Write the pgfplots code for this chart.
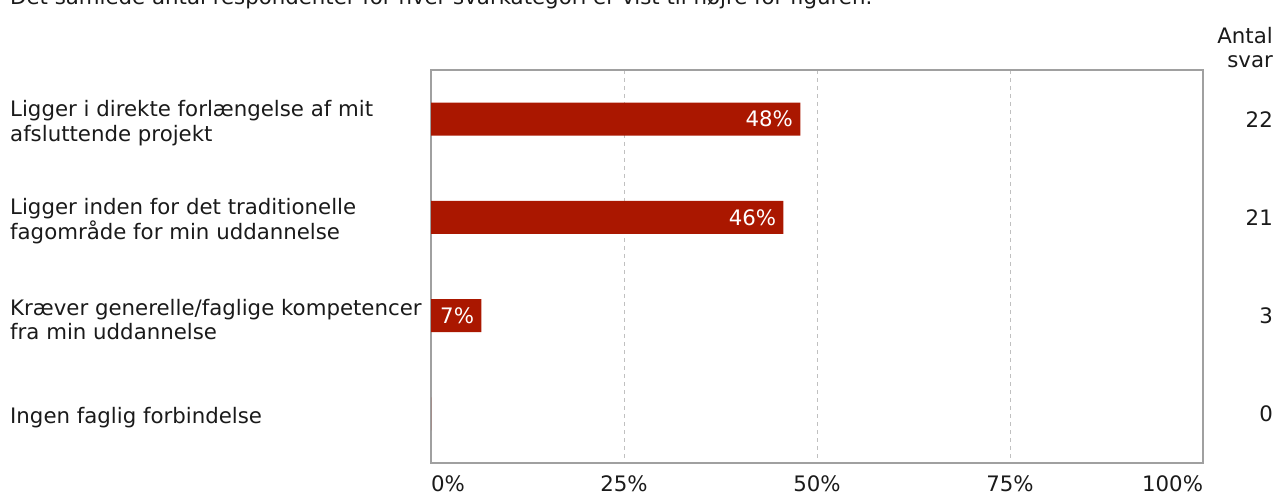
\documentclass[border=0pt]{standalone}
\usepackage{pgfplots}
\pgfplotsset{compat=1.18}
\usepackage{fontspec}
\setmainfont{DejaVu Sans}

\definecolor{barred}{HTML}{AA1700}
\definecolor{txt}{HTML}{1A1A1A}
\definecolor{framegray}{HTML}{A0A0A0}
\definecolor{gridgray}{HTML}{C0C0C0}

% andele i procent (22, 21, 3 og 0 af 46 svar)
\pgfplotstableread{
y pct
0 47.83
1 45.65
2 6.52
3 0
}\andele

\begin{document}
\fontsize{21.3bp}{24.5bp}\selectfont
\begin{tikzpicture}[x=1bp,y=1bp]
\useasboundingbox (0,0) rectangle (1278,502);
\node[anchor=base west, inner sep=0, text=txt] at (10,497)
  {Det samlede antal respondenter for hver svarkategori er vist til højre for figuren.};
\node[anchor=base east, inner sep=0, align=right, text=txt] at (1273,434) {Antal\\svar};

\begin{axis}[
  at={(431bp,39bp)}, anchor=south west, scale only axis,
  width=772bp, height=393bp,
  xbar, bar width=33bp,
  xmin=0, xmax=100, ymin=-0.5, ymax=3.5, y dir=reverse,
  /pgf/number format/assume math mode=true,
  axis line style={draw=framegray, line width=1.2bp},
  major tick length=0,
  xtick={0,25,50,75,100},
  xticklabels={\makebox[0pt][l]{0\%},25\%,50\%,75\%,\makebox[0pt][r]{100\%}},
  xticklabel style={text=txt, yshift=-5bp},
  ytick={0,1,2,3},
  yticklabels={{Ligger i direkte forlængelse af mit\\afsluttende projekt},
               {Ligger inden for det traditionelle\\fagområde for min uddannelse},
               {Kræver generelle/faglige kompetencer\\fra min uddannelse},
               {Ingen faglig forbindelse}},
  yticklabel style={anchor=west, align=left, xshift=-421bp, yshift=-4bp, inner sep=0pt, text=txt},
  xmajorgrids,
  major grid style={draw=gridgray, line width=0.8bp, dash pattern=on 4bp off 4bp},
  point meta=x,
  nodes near coords={\pgfmathfloatifflags{\pgfplotspointmeta}{0}{}{\pgfmathprintnumber[fixed,precision=0]{\pgfplotspointmeta}\%}},
  every node near coord/.append style={anchor=east, text=white},
]
\addplot[fill=barred, draw=none] table[x=pct, y=y] {\andele};
\end{axis}

\begin{axis}[
  at={(431bp,39bp)}, anchor=south west, scale only axis,
  width=772bp, height=393bp,
  xmin=0, xmax=100, ymin=-0.5, ymax=3.5, y dir=reverse,
  axis line style={draw=none},
  major tick length=0,
  xtick=\empty,
  ytick={0,1,2,3},
  yticklabels={22,21,3,0},
  yticklabel pos=right,
  yticklabel style={anchor=east, xshift=70bp, inner sep=0pt, text=txt},
]
\end{axis}
\end{tikzpicture}
\end{document}
